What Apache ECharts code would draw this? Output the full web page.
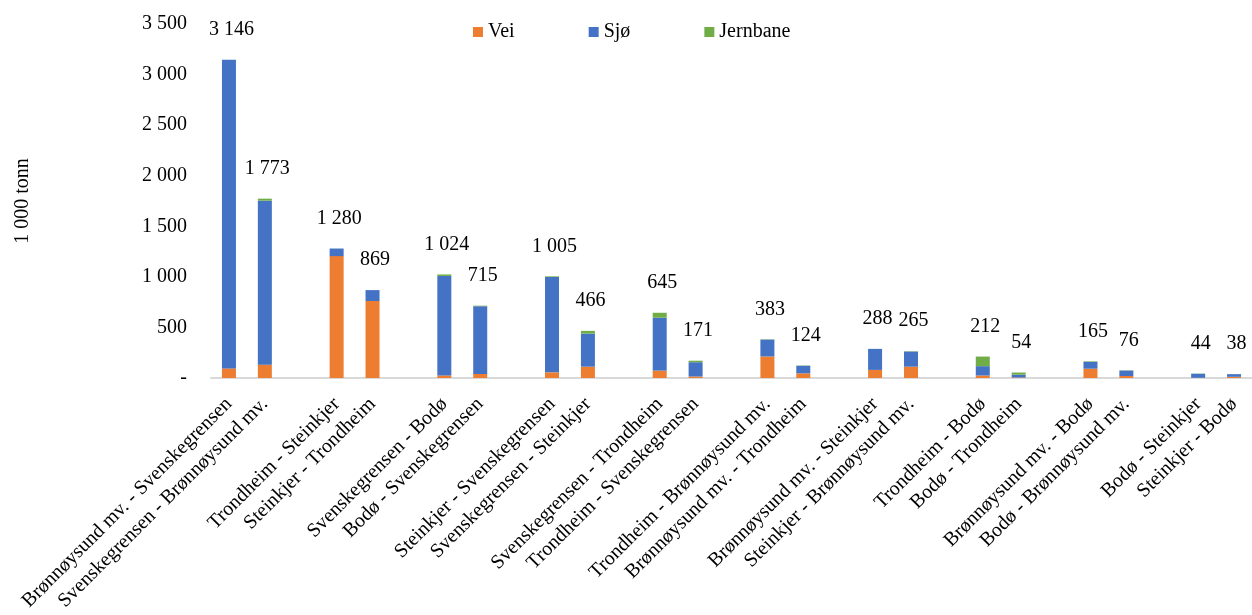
<!DOCTYPE html>
<html>
<head>
<meta charset="utf-8">
<script src="https://cdn.jsdelivr.net/npm/echarts@6/dist/echarts.min.js"></script>
<style>html,body{margin:0;padding:0;background:#fff}#c{width:1252px;height:615px}</style>
</head>
<body>
<div id="c"></div>
<script>
const categories = [
  'Brønnøysund mv. - Svenskegrensen', 'Svenskegrensen - Brønnøysund mv.', '',
  'Trondheim - Steinkjer', 'Steinkjer - Trondheim', '',
  'Svenskegrensen - Bodø', 'Bodø - Svenskegrensen', '',
  'Steinkjer - Svenskegrensen', 'Svenskegrensen - Steinkjer', '',
  'Svenskegrensen - Trondheim', 'Trondheim - Svenskegrensen', '',
  'Trondheim - Brønnøysund mv.', 'Brønnøysund mv. - Trondheim', '',
  'Brønnøysund mv. - Steinkjer', 'Steinkjer - Brønnøysund mv.', '',
  'Trondheim - Bodø', 'Bodø - Trondheim', '',
  'Brønnøysund mv. - Bodø', 'Bodø - Brønnøysund mv.', '',
  'Bodø - Steinkjer', 'Steinkjer - Bodø'
];
const vei      = [95, 132, null, 1205, 761, null, 25, 40, null, 56, 112, null, 73, 15, null, 213, 46, null, 80, 112, null, 25, 5, null, 92, 20, null, 2, 12];
const sjo      = [3051, 1621, null, 75, 108, null, 984, 670, null, 942, 327, null, 523, 141, null, 167, 75, null, 208, 150, null, 92, 28, null, 68, 54, null, 40, 26];
const jernbane = [0, 20, null, 0, 0, null, 15, 5, null, 7, 27, null, 49, 15, null, 3, 3, null, 0, 3, null, 95, 21, null, 5, 2, null, 2, 0];
const totals   = [3146, 1773, null, 1280, 869, null, 1024, 715, null, 1005, 466, null, 645, 171, null, 383, 124, null, 288, 265, null, 212, 54, null, 165, 76, null, 44, 38];
const yTicks = [0, 500, 1000, 1500, 2000, 2500, 3000, 3500];

const FONT = '"Liberation Serif", "DejaVu Serif", serif';
const fmt = v => v === 0 ? '-' : String(v).replace(/\B(?=(\d{3})+(?!\d))/g, ' ');

const chart = echarts.init(document.getElementById('c'), null, {renderer: 'canvas'});
chart.setOption({
  animation: false,
  textStyle: {fontFamily: FONT},
  legend: {
    data: ['Vei', 'Sjø', 'Jernbane'],
    left: 468, top: 17,
    itemWidth: 10, itemHeight: 10, itemGap: 74,
    icon: 'rect',
    textStyle: {fontFamily: FONT, fontSize: 20, color: '#000'}
  },
  grid: {left: 211, right: -4, top: 24, bottom: 237, containLabel: false},
  xAxis: {
    type: 'category',
    data: categories,
    axisLine: {lineStyle: {color: '#d9d9d9', width: 2}},
    axisTick: {show: false},
    axisLabel: {interval: 0, rotate: 45, margin: 23,
                fontFamily: FONT, fontSize: 20, color: '#000'}
  },
  yAxis: {
    type: 'value',
    min: yTicks[0], max: yTicks[yTicks.length - 1], interval: 500,
    name: '1 000 tonn', nameLocation: 'middle', nameGap: 178, nameRotate: 90,
    nameTextStyle: {fontFamily: FONT, fontSize: 20, color: '#000'},
    axisLine: {show: false}, axisTick: {show: false}, splitLine: {show: false},
    axisLabel: {margin: 24, fontFamily: FONT, fontSize: 20, color: '#000', formatter: fmt}
  },
  series: [
    {name: 'Vei', type: 'bar', stack: 's', barWidth: 14, data: vei, itemStyle: {color: '#ED7D31'}},
    {name: 'Sjø', type: 'bar', stack: 's', barWidth: 14, data: sjo, itemStyle: {color: '#4472C4'}},
    {name: 'Jernbane', type: 'bar', stack: 's', barWidth: 14, data: jernbane, itemStyle: {color: '#70AD47'}},
    {name: 'Total', type: 'bar', barWidth: 14, barGap: '-100%', data: totals,
     itemStyle: {color: 'rgba(0,0,0,0)'}, silent: true,
     label: {show: true, position: 'top', distance: 20, offset: [2.5, 0],
             fontFamily: FONT, fontSize: 20, color: '#000',
             formatter: p => fmt(p.value)}}
  ]
});
</script>
</body>
</html>
